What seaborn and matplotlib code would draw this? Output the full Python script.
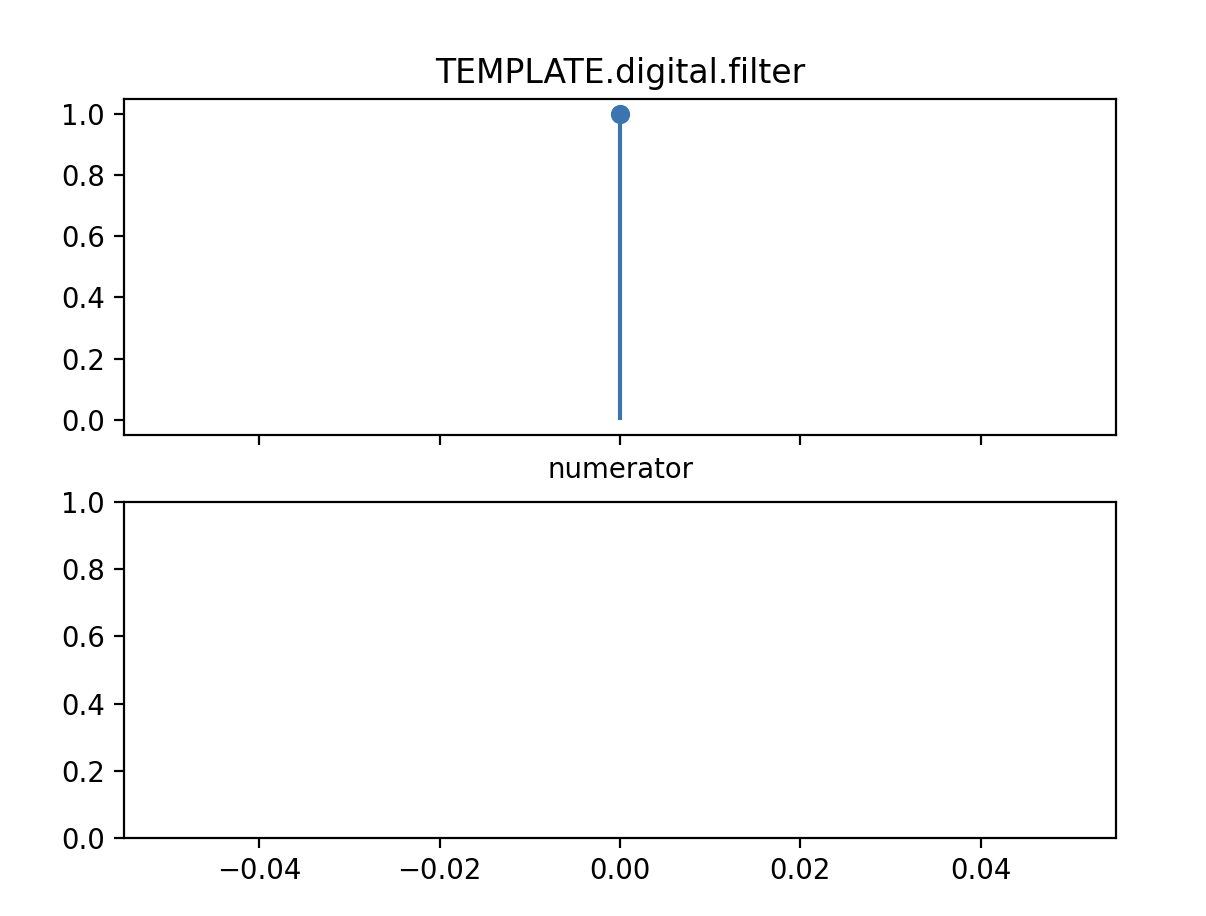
import matplotlib
matplotlib.use("Agg")
import matplotlib.pyplot as plt
import seaborn as sns
import numpy as np

# filter coefficients
num_x = [0.0]
num_y = [1.0]

TITLE = "TEMPLATE.digital.filter"
STEM_COLOR = "#3a75b0"
DPI = 198

fig, (ax1, ax2) = plt.subplots(2, 1, sharex=True, figsize=(1206 / DPI, 916 / DPI), dpi=DPI)
fig.subplots_adjust(left=0.1028, right=0.9254, top=0.8919, bottom=0.0852, hspace=0.2)

ax1.vlines(num_x, 0, num_y, color=STEM_COLOR, linewidth=1.5)
sns.scatterplot(x=num_x, y=num_y, ax=ax1, color=STEM_COLOR, s=36,
                edgecolor=STEM_COLOR, linewidth=1, zorder=3)
ax1.set_title(TITLE, fontsize=12)
ax1.set_xlabel("numerator")
ax1.xaxis.label.set_visible(True)

ax2.set_ylim(0, 1)

fig.savefig("out.png", dpi=DPI)
